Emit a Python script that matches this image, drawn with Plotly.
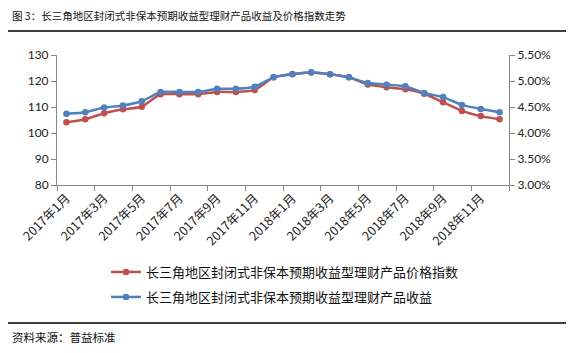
import plotly.graph_objects as go

months = [f"2017年{m}月" for m in range(1, 13)] + [f"2018年{m}月" for m in range(1, 13)]
price_index = [104.1, 105.3, 107.6, 109.1, 110.1, 114.9, 114.9, 114.9, 115.8, 115.8, 116.5, 121.4,
               122.7, 123.3, 122.6, 121.4, 118.7, 117.6, 116.8, 115.1, 111.8, 108.5, 106.5, 105.3]
yield_pct = [4.37, 4.40, 4.49, 4.53, 4.61, 4.79, 4.79, 4.79, 4.85, 4.85, 4.89, 5.07,
             5.13, 5.17, 5.13, 5.07, 4.96, 4.93, 4.90, 4.77, 4.69, 4.54, 4.46, 4.40]

name_price = "长三角地区封闭式非保本预期收益型理财产品价格指数"
name_yield = "长三角地区封闭式非保本预期收益型理财产品收益"
title = "图 3：长三角地区封闭式非保本预期收益型理财产品收益及价格指数走势"
source = "资料来源：普益标准"

RED = "#C0504D"
BLUE = "#4F81BD"
AX = "#868686"
CJK = "Noto Sans CJK SC"
NUM = "Lato"

x = list(range(len(months)))
label_idx = list(range(0, len(months), 2))
boundaries = [i - 0.5 for i in range(0, len(months) + 1, 2)]

fig = go.Figure()
fig.add_trace(go.Scatter(
    x=x, y=price_index, name=name_price, mode="lines+markers",
    line=dict(color=RED, width=2.5, shape="spline", smoothing=0.5),
    marker=dict(color=RED, size=6.5, symbol="circle"),
    legend="legend", yaxis="y"))
fig.add_trace(go.Scatter(
    x=x, y=[v / 100 for v in yield_pct], name=name_yield, mode="lines+markers",
    line=dict(color=BLUE, width=2.5, shape="spline", smoothing=0.5),
    marker=dict(color=BLUE, size=6.5, symbol="circle"),
    legend="legend2", yaxis="y2"))

W, H = 586, 353
L, R, T, B = 57, 77, 55, 168
pw, ph = W - L - R, H - T - B

def px(xp):
    return (xp - L) / pw

def py(yp):
    return (H - B - yp) / ph

fig.update_layout(
    width=W, height=H,
    margin=dict(l=L, r=R, t=T, b=B, autoexpand=False),
    paper_bgcolor="white", plot_bgcolor="white",
    showlegend=True,
    xaxis=dict(
        range=[-0.5, len(months) - 0.5],
        tickmode="array", tickvals=label_idx, ticktext=[months[i] for i in label_idx],
        tickangle=-45, ticks="", showgrid=False, zeroline=False,
        showline=True, linecolor=AX, linewidth=1,
        tickfont=dict(family=CJK, size=12.5, color="#222222"),
        minor=dict(tickmode="array", tickvals=boundaries, ticks="outside",
                   ticklen=5, tickcolor=AX, tickwidth=1, showgrid=False),
    ),
    yaxis=dict(
        range=[80, 130], dtick=10, tick0=80,
        ticks="outside", ticklen=5, tickcolor=AX,
        showgrid=False, zeroline=False,
        showline=True, linecolor=AX, linewidth=1,
        tickfont=dict(family=NUM, size=12, color="#222222"),
    ),
    yaxis2=dict(
        range=[0.03, 0.055], dtick=0.005, tick0=0.03, tickformat=".2%",
        overlaying="y", side="right",
        ticks="outside", ticklen=5, tickcolor=AX,
        showgrid=False, zeroline=False,
        showline=True, linecolor=AX, linewidth=1,
        tickfont=dict(family=NUM, size=12, color="#222222"),
    ),
    legend=dict(x=px(106), y=py(272), xanchor="left", yanchor="middle",
                font=dict(family=CJK, size=13, color="#111111"),
                bgcolor="rgba(0,0,0,0)"),
    legend2=dict(x=px(106), y=py(297), xanchor="left", yanchor="middle",
                 font=dict(family=CJK, size=13, color="#111111"),
                 bgcolor="rgba(0,0,0,0)"),
    annotations=[
        dict(text=title, xref="paper", yref="paper", x=px(10), y=py(15),
             xanchor="left", yanchor="middle", showarrow=False,
             font=dict(family=CJK, size=10.5, color="#111111")),
        dict(text=source, xref="paper", yref="paper", x=px(10), y=py(337),
             xanchor="left", yanchor="middle", showarrow=False,
             font=dict(family=CJK, size=11.5, color="#111111")),
    ],
    shapes=[
        dict(type="line", xref="paper", yref="paper", x0=px(8), x1=px(566),
             y0=py(31), y1=py(31), line=dict(color="black", width=1.5)),
        dict(type="line", xref="paper", yref="paper", x0=px(8), x1=px(566),
             y0=py(323), y1=py(323), line=dict(color="black", width=1.5)),
    ],
)

fig.write_html("out.html")
